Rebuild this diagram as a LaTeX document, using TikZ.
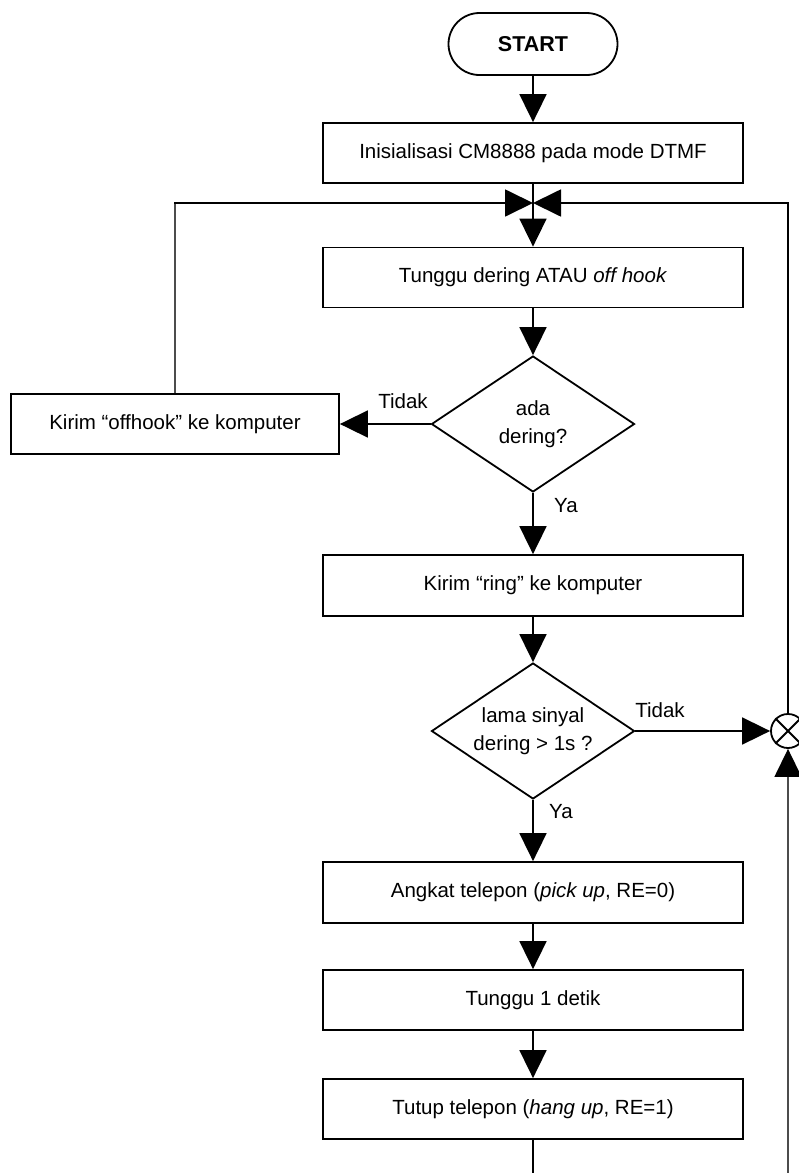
\documentclass[tikz,border=0pt]{standalone}
\usepackage{fontspec}
\setmainfont{Liberation Sans}
\usetikzlibrary{arrows.meta,shapes.geometric}

\begin{document}
\begin{tikzpicture}[x=1pt,y=-1pt,
  every node/.style={font=\fontsize{20.5}{28}\selectfont},
  proc/.style={draw, line width=1.8pt, rectangle, minimum width=420pt,
    minimum height=60pt, inner sep=0pt},
  term/.style={draw, line width=1.8pt, rectangle, rounded corners=31pt,
    minimum width=169pt, minimum height=62pt, inner sep=0pt,
    font=\fontsize{21.5}{26}\selectfont\bfseries},
  decide/.style={draw, line width=1.8pt, diamond, aspect=1.5,
    minimum width=203pt, minimum height=136pt, inner sep=0pt, align=center},
  sumpt/.style={draw, line width=1.8pt, circle, minimum size=34pt, inner sep=0pt},
  lbl/.style={inner sep=0pt},
  wire/.style={line width=1.8pt},
  thinwire/.style={line width=1.4pt, draw=black!70},
  arr/.style={line width=1.8pt, -{Triangle[length=28pt,width=27pt,color=black]}}
]
\useasboundingbox (0,0) rectangle (799,1173);

% process chain
\node[term] (start) at (533,44) {START};
\node[proc] (init) at (533,153) {Inisialisasi CM8888 pada mode DTMF};
\node[proc] (wait) at (533,277.5) {Tunggu dering ATAU \textit{off hook}};
\node[decide] (d1) at (533,424) {ada\\dering?};
\node[proc, minimum width=328pt] (offhook) at (175,424) {Kirim “offhook” ke komputer};
\node[proc, minimum height=61pt] (ring) at (533,585.5) {Kirim “ring” ke komputer};
\node[decide] (d2) at (533,731) {lama sinyal\\dering > 1s ?};
\node[sumpt] (sum) at (788,731) {};
\node[proc, minimum height=61pt] (pick) at (533,892.5) {Angkat telepon (\textit{pick up}, RE=0)};
\node[proc] (wait1) at (533,1000) {Tunggu 1 detik};
\node[proc] (hang) at (533,1109) {Tutup telepon (\textit{hang up}, RE=1)};

% cross inside the summing point
\draw[line width=1.8pt] (sum.north west) -- (sum.south east)
                        (sum.north east) -- (sum.south west);

% junction above the wait box
\coordinate (j) at (533,203);
\coordinate (jl) at (offhook.north |- j);
\coordinate (jr) at (sum.north |- j);
\coordinate (botl) at (533,1200);
\coordinate (botr) at (788,1200);

\draw[arr] (start) -- (init);
\draw[wire] (init) -- (j);
\draw[arr] (j) -- (wait);
\draw[thinwire] (offhook.north) -- (jl);
\draw[arr] ([xshift=-0.7pt]jl) -- (j);
\draw[line width=1.5pt] (sum.north) -- ([yshift=-0.7pt]jr);
\draw[arr] ([xshift=0.75pt]jr) -- (j);

\draw[arr] (wait) -- (d1);
\draw[arr] (d1.west) -- (offhook.east);
\draw[arr] (d1.south) -- (ring);
\draw[arr] (ring) -- (d2);
\draw[arr] (d2.east) -- (sum.west);
\draw[arr] (d2.south) -- (pick);
\draw[arr] (pick) -- (wait1);
\draw[arr] (wait1) -- (hang);
\draw[wire] (hang) -- (botl);
\draw[arr, thinwire] (botr) -- (sum.south);

% branch labels
\node[lbl] (t1) at (403,401) {Tidak};
\node[lbl] (y1) at (566,506) {Ya};
\node[lbl] (t2) at (660,710) {Tidak};
\node[lbl] (y2) at (561,812) {Ya};
\end{tikzpicture}
\end{document}
